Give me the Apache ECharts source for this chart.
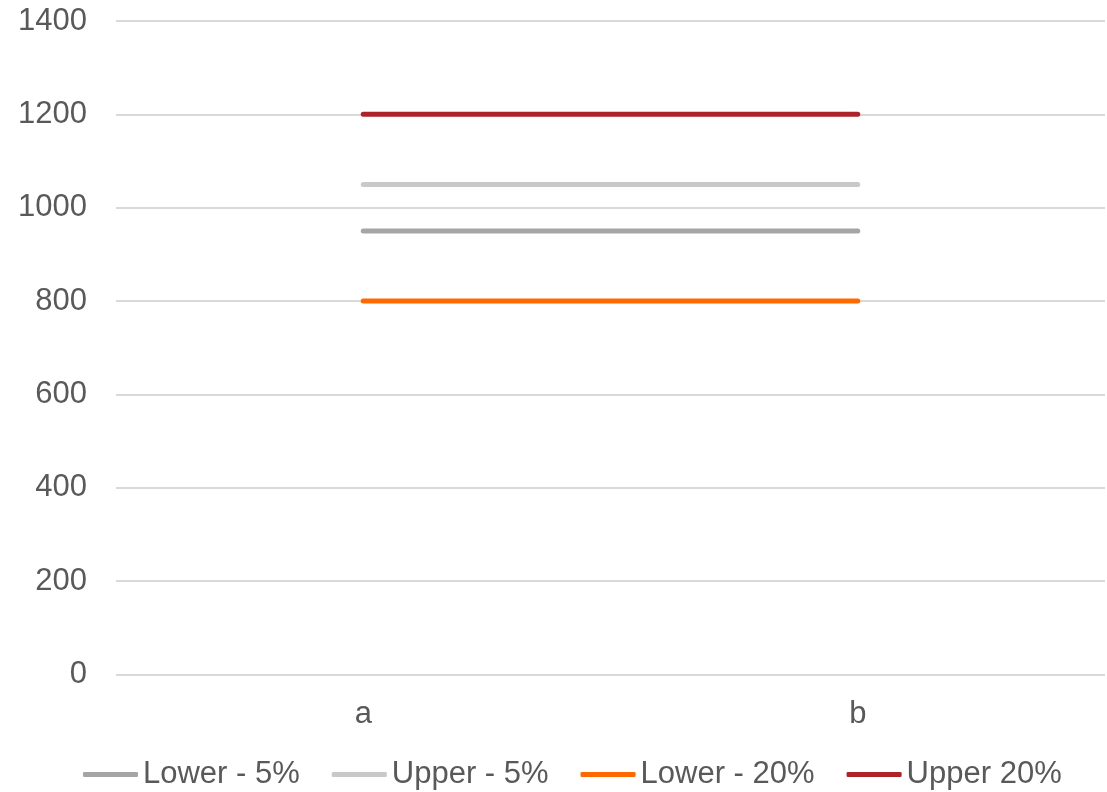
<!DOCTYPE html>
<html>
<head>
<meta charset="utf-8">
<script src="https://cdn.jsdelivr.net/npm/echarts@6/dist/echarts.min.js"></script>
<style>
  html, body { margin: 0; padding: 0; background: #fff; }
  #chart { width: 1107px; height: 792px; }
</style>
</head>
<body>
<div id="chart"></div>
<script>
// Categories and band values
const categories = ['a', 'b'];
const lower5 = [950, 950];
const upper5 = [1050, 1050];
const lower20 = [800, 800];
const upper20 = [1200, 1200];

const seriesNames = ['Lower - 5%', 'Upper - 5%', 'Lower - 20%', 'Upper 20%'];
const seriesData = [lower5, upper5, lower20, upper20];
const colors = ['#a5a5a5', '#c9c9c9', '#ff6a00', '#ae2229'];

const textColor = '#595959';
const fontFamily = 'Liberation Sans, Arial, sans-serif';

const chart = echarts.init(document.getElementById('chart'));
chart.setOption({
  animation: false,
  color: colors,
  grid: { left: 116, right: 2, top: 21, bottom: 117.5, containLabel: false },
  legend: {
    top: 754,
    left: 78,
    itemWidth: 55,
    itemHeight: 5,
    itemGap: 32,
    icon: 'roundRect',
    textStyle: { color: textColor, fontSize: 31, fontFamily: fontFamily },
    data: seriesNames
  },
  xAxis: {
    type: 'category',
    data: categories,
    boundaryGap: true,
    axisLine: { show: false },
    axisTick: { show: false },
    axisLabel: { color: textColor, fontSize: 31, fontFamily: fontFamily, margin: 24 }
  },
  yAxis: {
    type: 'value',
    min: 0,
    max: 1400,
    interval: 200,
    axisLine: { show: false },
    axisTick: { show: false },
    splitLine: { lineStyle: { color: '#d9d9d9', width: 2 } },
    axisLabel: {
      color: textColor, fontSize: 31, fontFamily: fontFamily, margin: 29,
      formatter: (v) => String(v)
    }
  },
  series: seriesNames.map((name, i) => ({
    name: name,
    type: 'line',
    data: seriesData[i],
    symbol: 'none',
    lineStyle: { width: 5, color: colors[i], cap: 'round' },
    itemStyle: { color: colors[i] }
  }))
});
</script>
</body>
</html>
